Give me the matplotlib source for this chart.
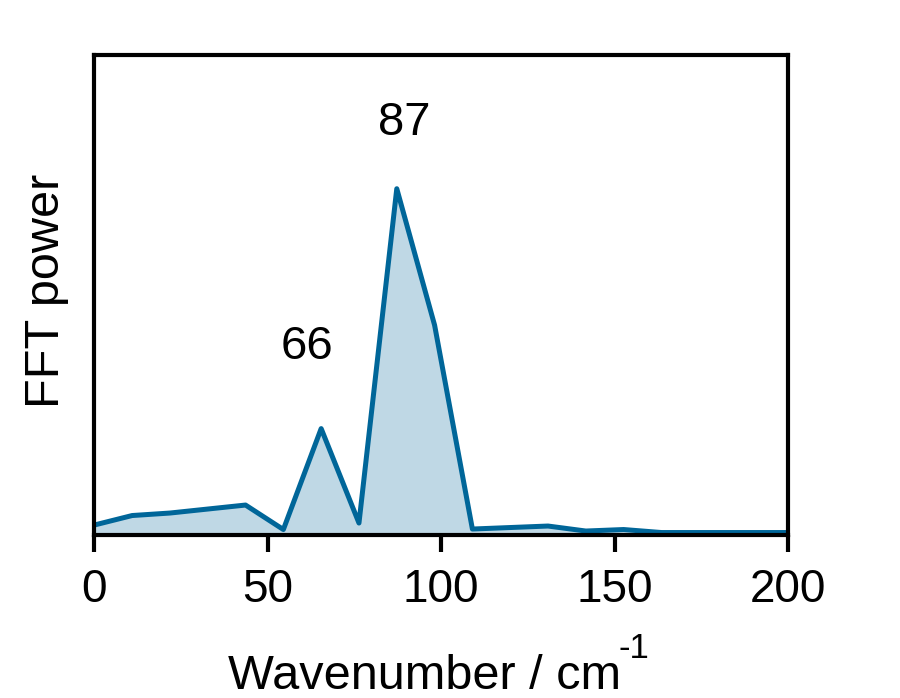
import numpy as np
import matplotlib
matplotlib.use('Agg')
import matplotlib.pyplot as plt

plt.rcParams['font.family'] = ['Liberation Sans', 'DejaVu Sans']

# FFT power spectrum (arbitrary units)
wavenumber = [0, 10.9, 21.8, 32.7, 43.6, 54.5, 65.4, 76.3, 87.2, 98.1,
              109.0, 119.9, 130.8, 141.7, 152.6, 163.5, 174.4, 185.3, 196.2, 207.1]
power = [9.5, 19, 21.5, 25.5, 29.5, 5, 106, 11.5, 346, 209.5,
         5.5, 7, 8.5, 3.5, 5, 2, 2, 2, 2, 2]

peak_labels = ['87', '66']
peak_x = [89.3, 61.2]
peak_y = [412, 188]

line_color = '#006699'

fig = plt.figure(figsize=(9, 6.98), dpi=100)
ax = fig.add_axes([0.1048, 0.2342, 0.7708, 0.6866])

ax.fill_between(wavenumber, power, 0, color=line_color, alpha=0.25, linewidth=0)
ax.plot(wavenumber, power, color=line_color, linewidth=3.6)

for lab, px, py in zip(peak_labels, peak_x, peak_y):
    ax.text(px, py, lab, fontsize=34, ha='center', va='center')

ax.set_xlim(0, 200)
ax.set_ylim(0, 479.5)
ax.set_xticks([0, 50, 100, 150, 200])
ax.set_yticks([])
ax.tick_params(axis='x', direction='out', length=12, width=3, labelsize=33, pad=12)

for sp in ax.spines.values():
    sp.set_linewidth(3)

ax.set_xlabel('Wavenumber / cm', fontsize=35, va='baseline')
ax.xaxis.set_label_coords(0.4767, -0.322)
ax.set_ylabel('FFT power', fontsize=35, va='center')
ax.yaxis.set_label_coords(-0.0696, 0.509)

# superscript of the unit
fig.text(633.5 / 900, 1 - 649 / 698, '-1', fontsize=25, ha='center', va='center')

fig.savefig('out.png', dpi=100)
